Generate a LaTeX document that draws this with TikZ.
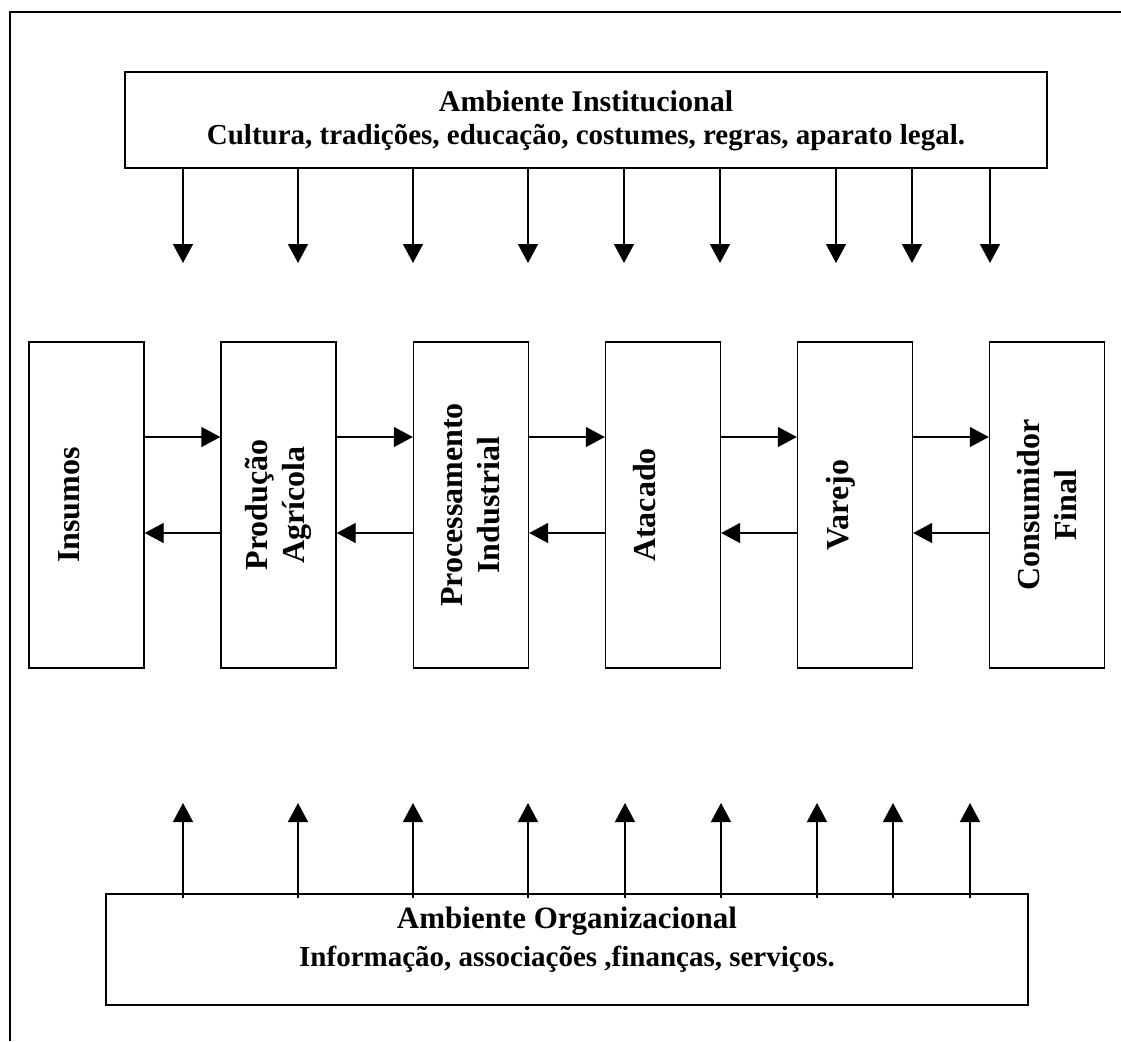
\documentclass[tikz,border=0pt]{standalone}
\usepackage{fontspec}
\setmainfont{Liberation Serif}
\usetikzlibrary{arrows.meta}
\tikzset{
  box/.style={draw, line width=1.4pt, inner sep=0pt},
  stage/.style={box, minimum width=115pt, minimum height=326pt},
  stagetext/.style={rotate=90, align=center, font=\bfseries\fontsize{32}{37}\selectfont},
  envtitle/.style={align=center, font=\bfseries\fontsize{30}{37}\selectfont},
  envtext/.style={align=center, font=\bfseries\fontsize{29}{37}\selectfont},
  flow/.style={line width=1.4pt, -{Triangle[length=19pt, width=20pt]}},
}
\begin{document}
\begin{tikzpicture}[x=1pt, y=-1pt]
  \useasboundingbox (0,0) rectangle (1121,1041);
  % moldura
  \draw[line width=1.6pt] (1121,12) -- (10,12) -- (10,1041);

  \node[box, minimum width=922pt, minimum height=96pt] (inst) at (586,120) {};
  \node[envtitle] (insttitle) at (586,101) {Ambiente Institucional};
  \node[envtext] (insttext) at (586,138) {Cultura, tradições, educação, costumes, regras, aparato legal.};

  \node[box, minimum width=922pt, minimum height=111pt] (org) at (567,949.5) {};
  \node[envtitle, font=\bfseries\fontsize{31}{37}\selectfont] (orgtitle) at (567,921) {Ambiente Organizacional};
  \node[envtext] (orgtext) at (567,959) {Informação, associações ,finanças, serviços.};

  % cadeia
  \node[stage] (ins)  at (86.5,505) {};
  \node[stage] (prod) at (278.5,505) {};
  \node[stage] (proc) at (471,505) {};
  \node[stage] (atac) at (663,505) {};
  \node[stage] (varj) at (855,505) {};
  \node[stage] (cons) at (1047,505) {};

  \node[stagetext] at ([xshift=-17pt]ins.center) {Insumos};
  \node[stagetext] at (prod.center) {Produção\\Agrícola};
  \node[stagetext] at (proc.center) {Processamento\\Industrial};
  \node[stagetext] at ([xshift=-18pt]atac.center) {Atacado};
  \node[stagetext] at ([xshift=-14pt]varj.center) {Varejo};
  \node[stagetext] at (cons.center) {Consumidor\\Final};

  \foreach \a/\b in {ins/prod, prod/proc, proc/atac, atac/varj, varj/cons} {
    \draw[flow] ([yshift=68pt]\a.east) -- ([yshift=68pt]\b.west);
    \draw[flow] ([yshift=-28pt]\b.west) -- ([yshift=-28pt]\a.east);
  }

  % influencias
  \foreach \x in {183,298,413,528,624,720,836,912,990}
    \draw[flow] (inst.south -| \x,0) -- (\x,263);
  \foreach \x in {183,298,413,528,625,721,817,893,970}
    \draw[flow] ([yshift=-5pt]org.north -| \x,0) -- (\x,803);
\end{tikzpicture}
\end{document}
